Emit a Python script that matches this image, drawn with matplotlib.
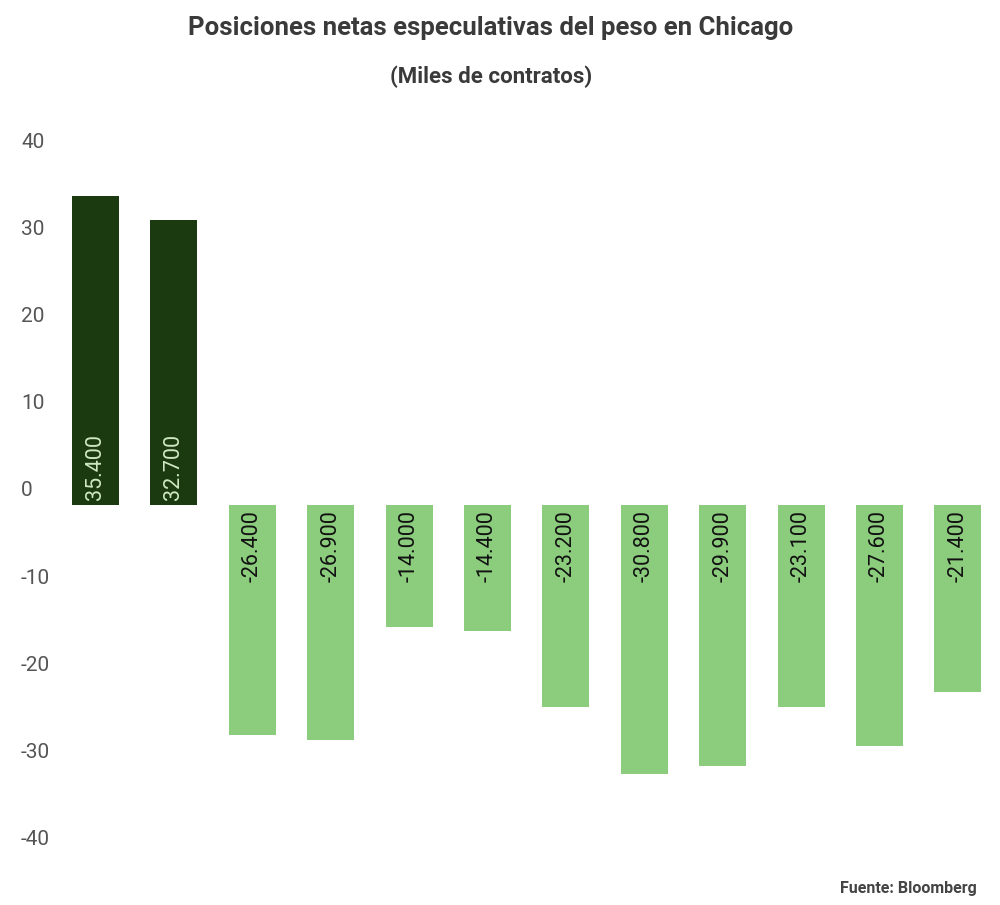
import matplotlib.pyplot as plt
import matplotlib
import matplotlib.transforms as mtransforms

matplotlib.rcParams['font.family'] = ['Roboto', 'DejaVu Sans']

# datos (miles de contratos)
valores = [35.4, 32.7, -26.4, -26.9, -14.0, -14.4, -23.2, -30.8, -29.9, -23.1, -27.6, -21.4]
etiquetas = ['35.400', '32.700', '-26.400', '-26.900', '-14.000', '-14.400',
             '-23.200', '-30.800', '-29.900', '-23.100', '-27.600', '-21.400']
ticks_y = [40, 30, 20, 10, 0, -10, -20, -30, -40]

oscuro = '#1b3a0f'
claro = '#8ccd7d'

fig = plt.figure(figsize=(10, 9.05), dpi=100)
ax = fig.add_axes([0.0563, 0.0564, 0.9407, 0.7712])

x = list(range(len(valores)))
colores = [oscuro if v > 0 else claro for v in valores]
ax.bar(x, valores, width=0.6, color=colores)

ax.set_xlim(-0.5, len(valores) - 0.5)
ax.set_ylim(-40, 40)
ax.axis('off')

# etiquetas de las barras, junto a la base
for i, v in enumerate(valores):
    if v > 0:
        off = mtransforms.offset_copy(ax.transData, fig=fig, y=5, units='dots')
        ax.text(i, 0, etiquetas[i], rotation=90, ha='center', va='bottom',
                color='#cfe8c4', fontsize=15.5, transform=off)
    else:
        off = mtransforms.offset_copy(ax.transData, fig=fig, y=-5, units='dots')
        ax.text(i, 0, etiquetas[i], rotation=90, ha='center', va='top',
                color='#111111', fontsize=15.5, transform=off)

# eje y: etiquetas un poco por encima del valor
trans_y = mtransforms.offset_copy(ax.get_yaxis_transform(), fig=fig, y=14, units='dots')
for t in ticks_y:
    ax.text(-0.0375, t, str(t), ha='left', va='center', fontsize=15,
            color='#555555', transform=trans_y)

fig.text(0.491, 1 - 28 / 905, 'Posiciones netas especulativas del peso en Chicago',
         ha='center', va='center', fontsize=18.5, fontweight='bold', color='#3a3a3a')
fig.text(0.491, 1 - 77 / 905, '(Miles de contratos)',
         ha='center', va='center', fontsize=16, fontweight='bold', color='#3a3a3a')
fig.text(0.977, 1 - 888 / 905, 'Fuente: Bloomberg',
         ha='right', va='center', fontsize=11.5, fontweight='bold', color='#444444')

plt.savefig('out.png', dpi=100)
